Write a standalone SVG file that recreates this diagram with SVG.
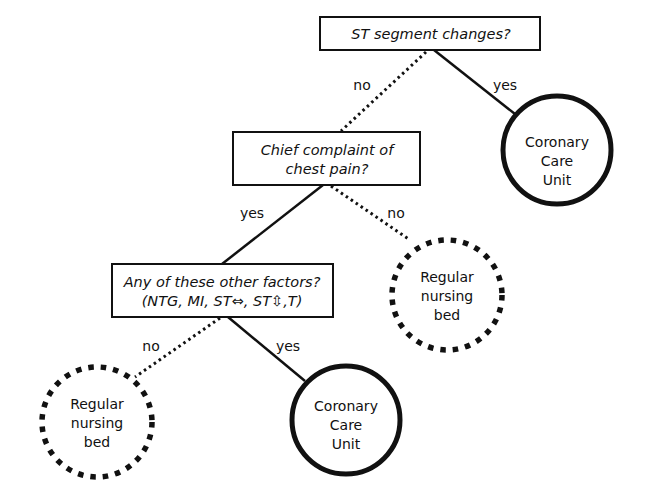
<svg xmlns="http://www.w3.org/2000/svg" width="663" height="500" viewBox="0 0 663 500">
<style>
.box{fill:#fff;stroke:#111;stroke-width:2}
.q{font-family:"DejaVu Sans",Verdana,sans-serif;font-style:italic;font-size:14.5px;fill:#111;text-anchor:middle}
.t{font-family:"DejaVu Sans",Verdana,sans-serif;font-size:14px;fill:#111;text-anchor:middle}
.solid{fill:none;stroke:#111;stroke-width:2.5}
.dot{fill:none;stroke:#111;stroke-width:3;stroke-dasharray:2.5 3.5}
.ccu{fill:#fff;stroke:#111;stroke-width:5}
.rnb{fill:#fff;stroke:#111;stroke-width:5.5;stroke-dasharray:5.5 7}
</style>
<rect width="663" height="500" fill="#fff"/>
<g id="connectors">
<line class="solid" x1="434" y1="50" x2="515" y2="114"/>
<line class="dot" x1="426" y1="52" x2="341" y2="131"/>
<line class="solid" x1="323" y1="185" x2="222" y2="264"/>
<line class="dot" x1="331" y1="186" x2="410" y2="240"/>
<line class="solid" x1="228" y1="317" x2="305" y2="381"/>
<line class="dot" x1="220" y1="318" x2="135" y2="377"/>
<text class="t" x="362" y="90">no</text>
<text class="t" x="505" y="90">yes</text>
<text class="t" x="252" y="218">yes</text>
<text class="t" x="396" y="218">no</text>
<text class="t" x="151" y="351">no</text>
<text class="t" x="288" y="351">yes</text>
</g>
<g id="q1">
<rect class="box" x="320" y="17" width="220" height="33"/>
<text class="q" x="431" y="39">ST segment changes?</text>
</g>
<g id="q2">
<rect class="box" x="233" y="132" width="187" height="53"/>
<text class="q" x="327" y="155">Chief complaint of</text>
<text class="q" x="327" y="174">chest pain?</text>
</g>
<g id="q3">
<rect class="box" x="112" y="264" width="221" height="53"/>
<text class="q" x="222" y="287">Any of these other factors?</text>
<text class="q" x="222" y="306">(NTG, MI, ST⇔, ST⇳,T)</text>
</g>
<g id="ccu1">
<circle class="ccu" cx="557" cy="150" r="54"/>
<text class="t" x="557" y="147">Coronary</text>
<text class="t" x="557" y="166">Care</text>
<text class="t" x="557" y="185">Unit</text>
</g>
<g id="rnb1">
<circle class="rnb" cx="447" cy="295" r="55"/>
<text class="t" x="447" y="282">Regular</text>
<text class="t" x="447" y="301">nursing</text>
<text class="t" x="447" y="320">bed</text>
</g>
<g id="rnb2">
<circle class="rnb" cx="97" cy="422" r="55"/>
<text class="t" x="97" y="409">Regular</text>
<text class="t" x="97" y="428">nursing</text>
<text class="t" x="97" y="447">bed</text>
</g>
<g id="ccu2">
<circle class="ccu" cx="346" cy="420" r="54"/>
<text class="t" x="346" y="411">Coronary</text>
<text class="t" x="346" y="430">Care</text>
<text class="t" x="346" y="449">Unit</text>
</g>
</svg>
